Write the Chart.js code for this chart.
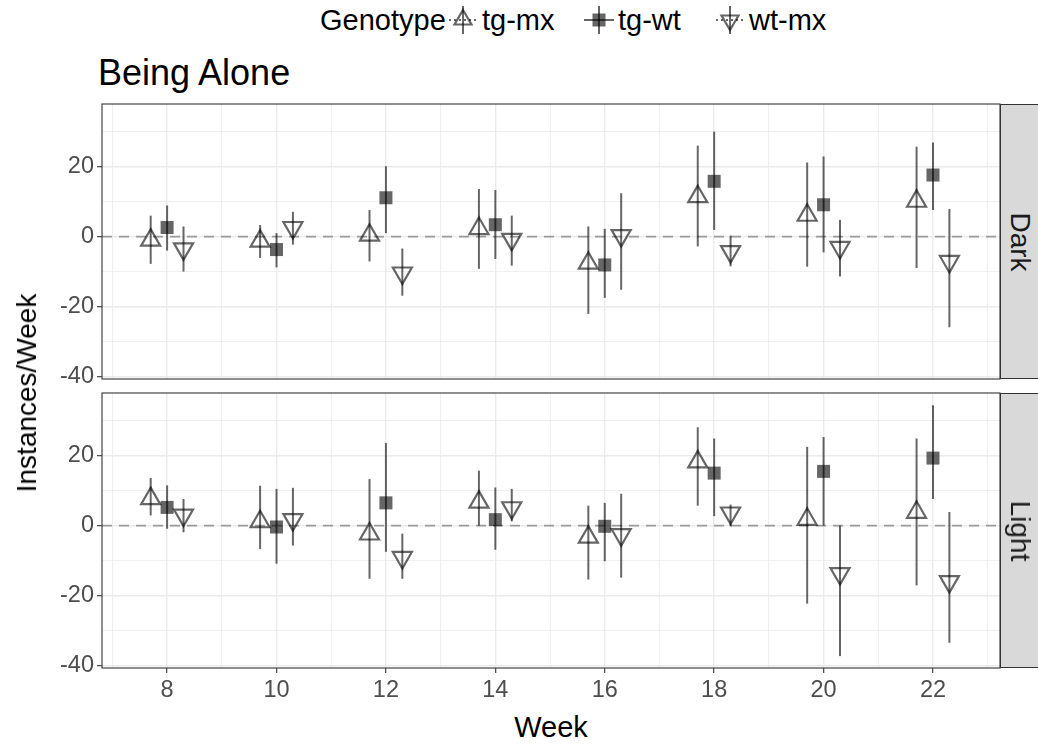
<!DOCTYPE html>
<html>
<head>
<meta charset="utf-8">
<script src="https://cdn.jsdelivr.net/npm/chart.js@4/dist/chart.umd.min.js"></script>
<style>
  body { margin: 0; background: #fff; font-family: "Liberation Sans", Arial, sans-serif; }
  #wrap { position: relative; width: 1038px; height: 744px; overflow: hidden; }
  canvas { position: absolute; left: 0; }
  .txt { position: absolute; white-space: nowrap; line-height: 1; }
  .strip { position: absolute; left: 1000px; width: 40px; height: 273px; background: #d9d9d9; border: 1px solid #333; }
  .strip span { position: absolute; left: 19px; top: 50%; transform: translate(-50%, -50%) rotate(90deg); font-size: 28px; color: #1a1a1a; white-space: nowrap; }
  .key { position: absolute; top: 5px; }
  .lab { position: absolute; top: 6px; font-size: 29px; color: #000; white-space: nowrap; line-height: 1; }
</style>
</head>
<body>
<div id="wrap">
  <div class="lab" style="left:320px;">Genotype</div>
  <svg class="key" style="left:448px" width="30" height="30">
    <line x1="1" y1="15" x2="29" y2="15" stroke="rgba(0,0,0,0.6)" stroke-width="2" stroke-dasharray="2,3"/>
    <line x1="15" y1="1" x2="15" y2="29" stroke="rgba(0,0,0,0.6)" stroke-width="2"/>
    <polygon points="15,5 23.5,19.5 6.5,19.5" fill="none" stroke="rgba(0,0,0,0.6)" stroke-width="2.2"/>
  </svg>
  <div class="lab" style="left:482px;">tg-mx</div>
  <svg class="key" style="left:584px" width="30" height="30">
    <line x1="0" y1="15" x2="30" y2="15" stroke="rgba(0,0,0,0.6)" stroke-width="2"/>
    <line x1="15" y1="1" x2="15" y2="29" stroke="rgba(0,0,0,0.6)" stroke-width="2"/>
    <rect x="8.5" y="8.5" width="13" height="13" fill="rgba(0,0,0,0.6)"/>
  </svg>
  <div class="lab" style="left:618px;">tg-wt</div>
  <svg class="key" style="left:715px" width="30" height="30">
    <line x1="1" y1="15" x2="29" y2="15" stroke="rgba(0,0,0,0.6)" stroke-width="2" stroke-dasharray="2,3"/>
    <line x1="15" y1="1" x2="15" y2="29" stroke="rgba(0,0,0,0.6)" stroke-width="2"/>
    <polygon points="15,25 23.5,10.5 6.5,10.5" fill="none" stroke="rgba(0,0,0,0.6)" stroke-width="2.2"/>
  </svg>
  <div class="lab" style="left:749px;">wt-mx</div>

  <div class="txt" style="left:98px; top:55px; font-size:36px; color:#000;">Being Alone</div>

  <canvas id="dark" width="1038" height="295" style="top:94px"></canvas>
  <canvas id="light" width="1038" height="325" style="top:383px"></canvas>

  <div class="strip" style="top:104px"><span>Dark</span></div>
  <div class="strip" style="top:393px"><span>Light</span></div>

  <div class="txt" style="left:27px; top:393px; font-size:28px; color:#000; transform: translate(-50%,-50%) rotate(-90deg);">Instances/Week</div>
  <div class="txt" style="left:551px; top:727px; font-size:29px; color:#000; transform: translate(-50%,-50%);">Week</div>
</div>
<script>
const weeks = [8, 10, 12, 14, 16, 18, 20, 22];
const genotypes = ['tg-mx', 'tg-wt', 'wt-mx'];
const dodge = [-0.3, 0, 0.3];

// Dark panel: mean, lower and upper end of error bar
const darkTgMx   = [-1.0, -1.3, 0.4, 2.3, -7.6, 11.4, 6.1, 10.1];
const darkTgMxLo = [-7.8, -6.1, -7.1, -9.2, -22.1, -2.8, -8.6, -9.0];
const darkTgMxHi = [6.0, 3.3, 7.6, 13.6, 2.9, 26.0, 21.2, 25.7];
const darkTgWt   = [2.6, -3.7, 11.1, 3.4, -8.1, 15.8, 9.1, 17.6];
const darkTgWtLo = [-4.0, -8.8, 1.0, -6.4, -17.5, 1.9, -4.5, 7.6];
const darkTgWtHi = [8.9, 1.0, 20.1, 13.3, 2.2, 30.0, 22.9, 26.9];
const darkWtMx   = [-3.5, 2.6, -10.4, -0.8, 0.3, -4.3, -3.1, -7.1];
const darkWtMxLo = [-10.0, -2.3, -16.9, -8.3, -15.2, -8.5, -11.4, -25.9];
const darkWtMxHi = [2.9, 7.1, -3.4, 6.0, 12.4, 0.3, 4.8, 7.9];

// Light panel
const lightTgMx   = [7.7, 1.1, -2.4, 6.7, -3.3, 18.2, 1.8, 3.8];
const lightTgMxLo = [2.9, -6.7, -15.2, 0.0, -15.4, 5.7, -22.3, -17.1];
const lightTgMxHi = [13.6, 11.4, 13.3, 15.7, 5.7, 28.1, 22.5, 24.9];
const lightTgWt   = [5.2, -0.4, 6.5, 1.7, -0.2, 15.0, 15.5, 19.3];
const lightTgWtLo = [-0.9, -10.9, -7.5, -6.9, -10.2, 2.7, 0.0, 7.6];
const lightTgWtHi = [11.5, 10.5, 23.6, 10.9, 6.5, 24.9, 25.3, 34.4];
const lightWtMx   = [3.0, 1.7, -9.1, 5.1, -2.6, 3.6, -13.7, -16.0];
const lightWtMxLo = [-1.9, -5.7, -15.2, 1.2, -14.9, -0.2, -37.3, -33.5];
const lightWtMxHi = [7.6, 10.8, -2.3, 10.5, 9.1, 6.0, 0.0, 3.9];

const ink = 'rgba(0,0,0,0.6)';
const font = { family: '"Liberation Sans", Arial, sans-serif', size: 23.5 };

// error bars + zero line under the points, panel border on top
const errorBars = {
  id: 'errorBars',
  beforeDatasetsDraw(chart) {
    const { ctx, chartArea: a, scales: { x, y } } = chart;
    ctx.save();
    ctx.beginPath();
    ctx.rect(a.left, a.top, a.width, a.height);
    ctx.clip();
    const y0 = y.getPixelForValue(0);
    ctx.strokeStyle = 'rgba(120,120,120,0.7)';
    ctx.lineWidth = 1.6;
    ctx.setLineDash([10, 7]);
    ctx.beginPath();
    ctx.moveTo(a.left, y0);
    ctx.lineTo(a.right, y0);
    ctx.stroke();
    ctx.setLineDash([]);
    ctx.strokeStyle = ink;
    ctx.lineWidth = 2;
    chart.data.datasets.forEach(ds => {
      ds.data.forEach(p => {
        const px = x.getPixelForValue(p.x);
        ctx.beginPath();
        ctx.moveTo(px, y.getPixelForValue(p.lo));
        ctx.lineTo(px, y.getPixelForValue(p.hi));
        ctx.stroke();
      });
    });
    ctx.restore();
  },
  afterDraw(chart) {
    const { ctx, chartArea: a } = chart;
    ctx.save();
    ctx.strokeStyle = '#333';
    ctx.lineWidth = 1.1;
    ctx.strokeRect(a.left, a.top, a.width, a.height);
    ctx.restore();
  }
};

function noPad(s) {
  s.paddingTop = 0;
  s.paddingBottom = 0;
  s.paddingLeft = 0;
  s.paddingRight = 0;
}

function points(means, los, his, k) {
  return weeks.map((w, i) => ({ x: w + dodge[k], y: means[i], lo: los[i], hi: his[i] }));
}

function makePanel(id, sets, showX) {
  const styles = [
    { pointStyle: 'triangle', pointRadius: 11, pointRotation: 0, backgroundColor: 'rgba(0,0,0,0)', borderColor: ink, borderWidth: 2.2 },
    { pointStyle: 'rect', pointRadius: 9.2, pointRotation: 0, backgroundColor: ink, borderColor: 'rgba(0,0,0,0)', borderWidth: 0 },
    { pointStyle: 'triangle', pointRadius: 11, pointRotation: 180, backgroundColor: 'rgba(0,0,0,0)', borderColor: ink, borderWidth: 2.2 }
  ];
  new Chart(document.getElementById(id), {
    type: 'scatter',
    data: {
      datasets: genotypes.map((g, k) => Object.assign({
        label: g,
        data: points(sets[k][0], sets[k][1], sets[k][2], k),
        pointHoverRadius: styles[k].pointRadius
      }, styles[k]))
    },
    options: {
      responsive: false,
      animation: false,
      layout: { autoPadding: false, padding: { top: 10, bottom: showX ? 0 : 10, left: 0, right: 38 } },
      plugins: { legend: { display: false }, tooltip: { enabled: false } },
      scales: {
        x: {
          type: 'linear',
          min: 6.81,
          max: 23.225,
          afterFit: s => { s.height = showX ? 40 : 0; noPad(s); },
          border: { display: false },
          grid: {
            color: '#ebebeb',
            lineWidth: c => (c.tick && c.tick.value % 2 === 0) ? 1.4 : 0.8,
            drawTicks: showX,
            tickLength: 5,
            tickWidth: 1.1,
            tickColor: c => (c.tick && c.tick.value % 2 === 0) ? '#333' : 'rgba(0,0,0,0)'
          },
          ticks: {
            display: showX,
            stepSize: 1,
            includeBounds: false,
            autoSkip: false,
            maxRotation: 0,
            padding: 3,
            color: '#4d4d4d',
            font: font,
            callback: v => v % 2 === 0 ? v : ''
          }
        },
        y: {
          min: -40.7,
          max: 37.9,
          afterFit: s => { s.width = 102; noPad(s); },
          border: { display: false },
          grid: {
            color: '#ebebeb',
            lineWidth: c => (c.tick && c.tick.value % 20 === 0) ? 1.4 : 0.8,
            tickLength: 5,
            tickWidth: 1.1,
            tickColor: c => (c.tick && c.tick.value % 20 === 0) ? '#333' : 'rgba(0,0,0,0)'
          },
          ticks: {
            stepSize: 10,
            includeBounds: false,
            padding: 3,
            color: '#4d4d4d',
            font: font,
            callback: v => v % 20 === 0 ? v : ''
          }
        }
      }
    },
    plugins: [errorBars]
  });
}

makePanel('dark', [
  [darkTgMx, darkTgMxLo, darkTgMxHi],
  [darkTgWt, darkTgWtLo, darkTgWtHi],
  [darkWtMx, darkWtMxLo, darkWtMxHi]
], false);

makePanel('light', [
  [lightTgMx, lightTgMxLo, lightTgMxHi],
  [lightTgWt, lightTgWtLo, lightTgWtHi],
  [lightWtMx, lightWtMxLo, lightWtMxHi]
], true);
</script>
</body>
</html>
